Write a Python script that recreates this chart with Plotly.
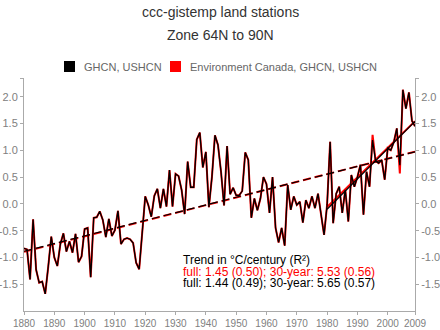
import plotly.graph_objects as go

# ---------------- data ----------------
years = list(range(1880, 2010))

ghcn_ushcn = [
    -0.83, -0.85, -1.41, -0.29, -1.23, -1.47, -1.45, -1.68, -1.17, -0.61,   # 1880-1889
    -1.00, -1.16, -0.75, -0.55, -0.89, -0.70, -0.91, -0.56, -1.09, -0.98,   # 1890-1899
    -0.47, -0.45, -1.37, -0.26, -0.25, -0.14, -0.30, -0.62, -0.28, -0.60,   # 1900-1909
    -0.49, -0.13, -0.75, -0.66, -0.64, -0.66, -0.73, -1.10, -1.22, -0.55,   # 1910-1919
    0.14, -0.02, -0.24, 0.15, 0.28, -0.08, 0.28, -0.05, 0.63, -0.05,        # 1920-1929
    0.56, 0.52, 0.26, -0.19, 0.79, 0.31, 0.31, 1.20, 1.33, 0.68,            # 1930-1939
    0.97, -0.06, 0.50, 1.28, 1.10, 0.60, -0.03, 1.08, 0.18, 0.30,           # 1940-1949
    0.16, 0.16, 0.24, 0.96, 0.82, -0.26, 0.10, -0.12, 0.10, 0.50,           # 1950-1959
    0.37, -0.17, 0.50, -0.45, -0.72, -0.45, -0.78, 0.35, -0.11, 0.14,       # 1960-1969
    -0.02, 0.04, -0.35, 0.07, -0.08, 0.14, -0.08, 0.19, -0.20, -0.58,       # 1970-1979
    -0.02, 1.16, -0.36, 0.19, 0.32, -0.17, 0.26, -0.33, 0.54, 0.32,         # 1980-1989
    0.50, 0.73, -0.20, 0.60, 0.32, 1.19, 0.80, 0.76, 0.82, 0.45,            # 1990-1999
    1.04, 1.00, 1.15, 1.41, 0.72, 2.13, 1.78, 2.08, 1.55, 1.45,             # 2000-2009
]

env_canada = [
    -0.83, -0.85, -1.41, -0.29, -1.23, -1.47, -1.45, -1.68, -1.17, -0.61,
    -1.00, -1.16, -0.75, -0.55, -0.89, -0.70, -0.91, -0.56, -1.09, -0.98,
    -0.47, -0.45, -1.37, -0.26, -0.25, -0.14, -0.30, -0.62, -0.28, -0.60,
    -0.49, -0.13, -0.75, -0.66, -0.64, -0.66, -0.73, -1.10, -1.22, -0.55,
    0.14, -0.02, -0.24, 0.15, 0.28, -0.08, 0.28, -0.05, 0.63, -0.05,
    0.56, 0.52, 0.26, -0.19, 0.79, 0.31, 0.31, 1.20, 1.33, 0.68,
    0.97, -0.06, 0.50, 1.28, 1.10, 0.60, -0.03, 1.08, 0.18, 0.30,
    0.16, 0.16, 0.24, 0.96, 0.82, -0.26, 0.10, -0.12, 0.10, 0.50,
    0.37, -0.17, 0.50, -0.45, -0.72, -0.45, -0.78, 0.35, -0.11, 0.14,
    -0.02, 0.04, -0.35, 0.07, -0.08, 0.14, -0.08, 0.19, -0.20, -0.58,
    -0.02, 1.16, -0.36, 0.19, 0.32, -0.17, 0.26, -0.33, 0.54, 0.32,
    0.50, 0.73, -0.20, 0.60, 0.32, 1.29, 0.80, 0.76, 0.82, 0.45,
    1.04, 1.00, 1.15, 1.41, 0.57, 2.13, 1.78, 2.08, 1.55, 1.45,
]

# trend lines (start/end years and values)
full_years = [1880, 2009]
full_trend_red = [-0.895, 0.976]     # 1.45 C/century
full_trend_black = [-0.885, 0.973]   # 1.44 C/century
recent_years = [1980, 2009]
recent_trend_red = [-0.06, 1.544]    # 5.53 C/century
recent_trend_black = [-0.10, 1.538]  # 5.65 C/century

x_tickvals = [1880, 1890, 1900, 1910, 1920, 1930, 1940, 1950, 1960, 1970, 1980, 1990, 2000, 2009]
y_tickvals = [-1.5, -1.0, -0.5, 0.0, 0.5, 1.0, 1.5, 2.0]
y_range = [-2.0, 2.35]
x_range = [1880, 2009]

title_lines = ["ccc-gistemp land stations", "Zone 64N to 90N"]
legend_names = ["GHCN, USHCN", "Environment Canada, GHCN, USHCN"]
trend_text = [
    "Trend in \u00b0C/century (R\u00b2)",
    "full: 1.45 (0.50); 30-year: 5.53 (0.56)",
    "full: 1.44 (0.49); 30-year: 5.65 (0.57)",
]

# ---------------- styling ----------------
FONT = "Liberation Sans, Arial, Helvetica, sans-serif"
RED = "#ff0000"
BLACK = "#000000"
AXIS = "#aaaaaa"
TICKFONT = "#808080"

W, H = 440, 330
L, R, T, B = 24, 25, 78, 19
PW, PH = W - L - R, H - T - B


def px(xp):
    return (xp - L) / PW


def py(yp):
    return (H - B - yp) / PH


fig = go.Figure()

# red series (underneath)
fig.add_trace(go.Scatter(x=years, y=env_canada, mode="lines",
                         line=dict(color=RED, width=2.0), showlegend=False,
                         name=legend_names[1]))
fig.add_trace(go.Scatter(x=full_years, y=full_trend_red, mode="lines",
                         line=dict(color=RED, width=2, dash="8px,4px"), showlegend=False))
fig.add_trace(go.Scatter(x=recent_years, y=recent_trend_red, mode="lines",
                         line=dict(color=RED, width=2), showlegend=False))
# black series (on top)
fig.add_trace(go.Scatter(x=years, y=ghcn_ushcn, mode="lines",
                         line=dict(color=BLACK, width=1.3), showlegend=False,
                         name=legend_names[0]))
fig.add_trace(go.Scatter(x=full_years, y=full_trend_black, mode="lines",
                         line=dict(color=BLACK, width=1.2, dash="8px,4px"), showlegend=False))
fig.add_trace(go.Scatter(x=recent_years, y=recent_trend_black, mode="lines",
                         line=dict(color=BLACK, width=1.2), showlegend=False))
# invisible trace to carry the right-hand axis
fig.add_trace(go.Scatter(x=[x_range[0]], y=[y_range[0]], yaxis="y2", mode="markers",
                         marker=dict(opacity=0), showlegend=False, hoverinfo="skip"))

y_ticktext = ["%.1f" % v for v in y_tickvals] + [""]
y_all_ticks = y_tickvals + [y_range[1]]

axis_common = dict(showgrid=False, zeroline=False, showline=True, linecolor=AXIS, linewidth=1,
                   ticks="outside", ticklen=3, tickcolor=AXIS, tickwidth=1, automargin=False,
                   tickfont=dict(family=FONT, size=11, color=TICKFONT))

fig.update_layout(
    width=W, height=H, autosize=False,
    margin=dict(l=L, r=R, t=T, b=B, pad=0, autoexpand=False),
    paper_bgcolor="white", plot_bgcolor="white",
    font=dict(family=FONT, color="#333333"),
    showlegend=False,
    xaxis=dict(range=x_range, tickvals=x_tickvals, ticktext=[str(v) for v in x_tickvals],
               **{**axis_common, "tickfont": dict(family=FONT, size=10, color=TICKFONT)}),
    yaxis=dict(range=y_range, tickvals=y_all_ticks, ticktext=y_ticktext, side="left",
               **axis_common),
    yaxis2=dict(range=y_range, tickvals=y_all_ticks, ticktext=y_ticktext, side="right",
                overlaying="y", **axis_common),
)

# titles
fig.add_annotation(text=title_lines[0], xref="paper", yref="paper", x=px(220), y=py(12),
                   xanchor="center", yanchor="middle", showarrow=False,
                   font=dict(family=FONT, size=14, color="#333333"))
fig.add_annotation(text=title_lines[1], xref="paper", yref="paper", x=px(220), y=py(35),
                   xanchor="center", yanchor="middle", showarrow=False,
                   font=dict(family=FONT, size=14, color="#333333"))

# legend (squares + labels)
legend_items = [(64, BLACK, legend_names[0]), (170, RED, legend_names[1])]
for x0, col, name in legend_items:
    fig.add_shape(type="rect", xref="paper", yref="paper",
                  x0=px(x0), x1=px(x0 + 11), y0=py(72), y1=py(61),
                  fillcolor=col, line=dict(width=0))
    fig.add_annotation(text=name, xref="paper", yref="paper", x=px(x0 + 18), y=py(66.5),
                       xanchor="left", yanchor="middle", showarrow=False,
                       font=dict(family=FONT, size=11, color="#666666"))

# trend annotation
trend_colors = [BLACK, RED, BLACK]
trend_y = [260, 271.8, 283.4]
for txt, col, yy in zip(trend_text, trend_colors, trend_y):
    fig.add_annotation(text=txt, xref="paper", yref="paper", x=px(181), y=py(yy),
                       xanchor="left", yanchor="middle", showarrow=False,
                       font=dict(family=FONT, size=12, color=col))

fig.write_html("out.html")
